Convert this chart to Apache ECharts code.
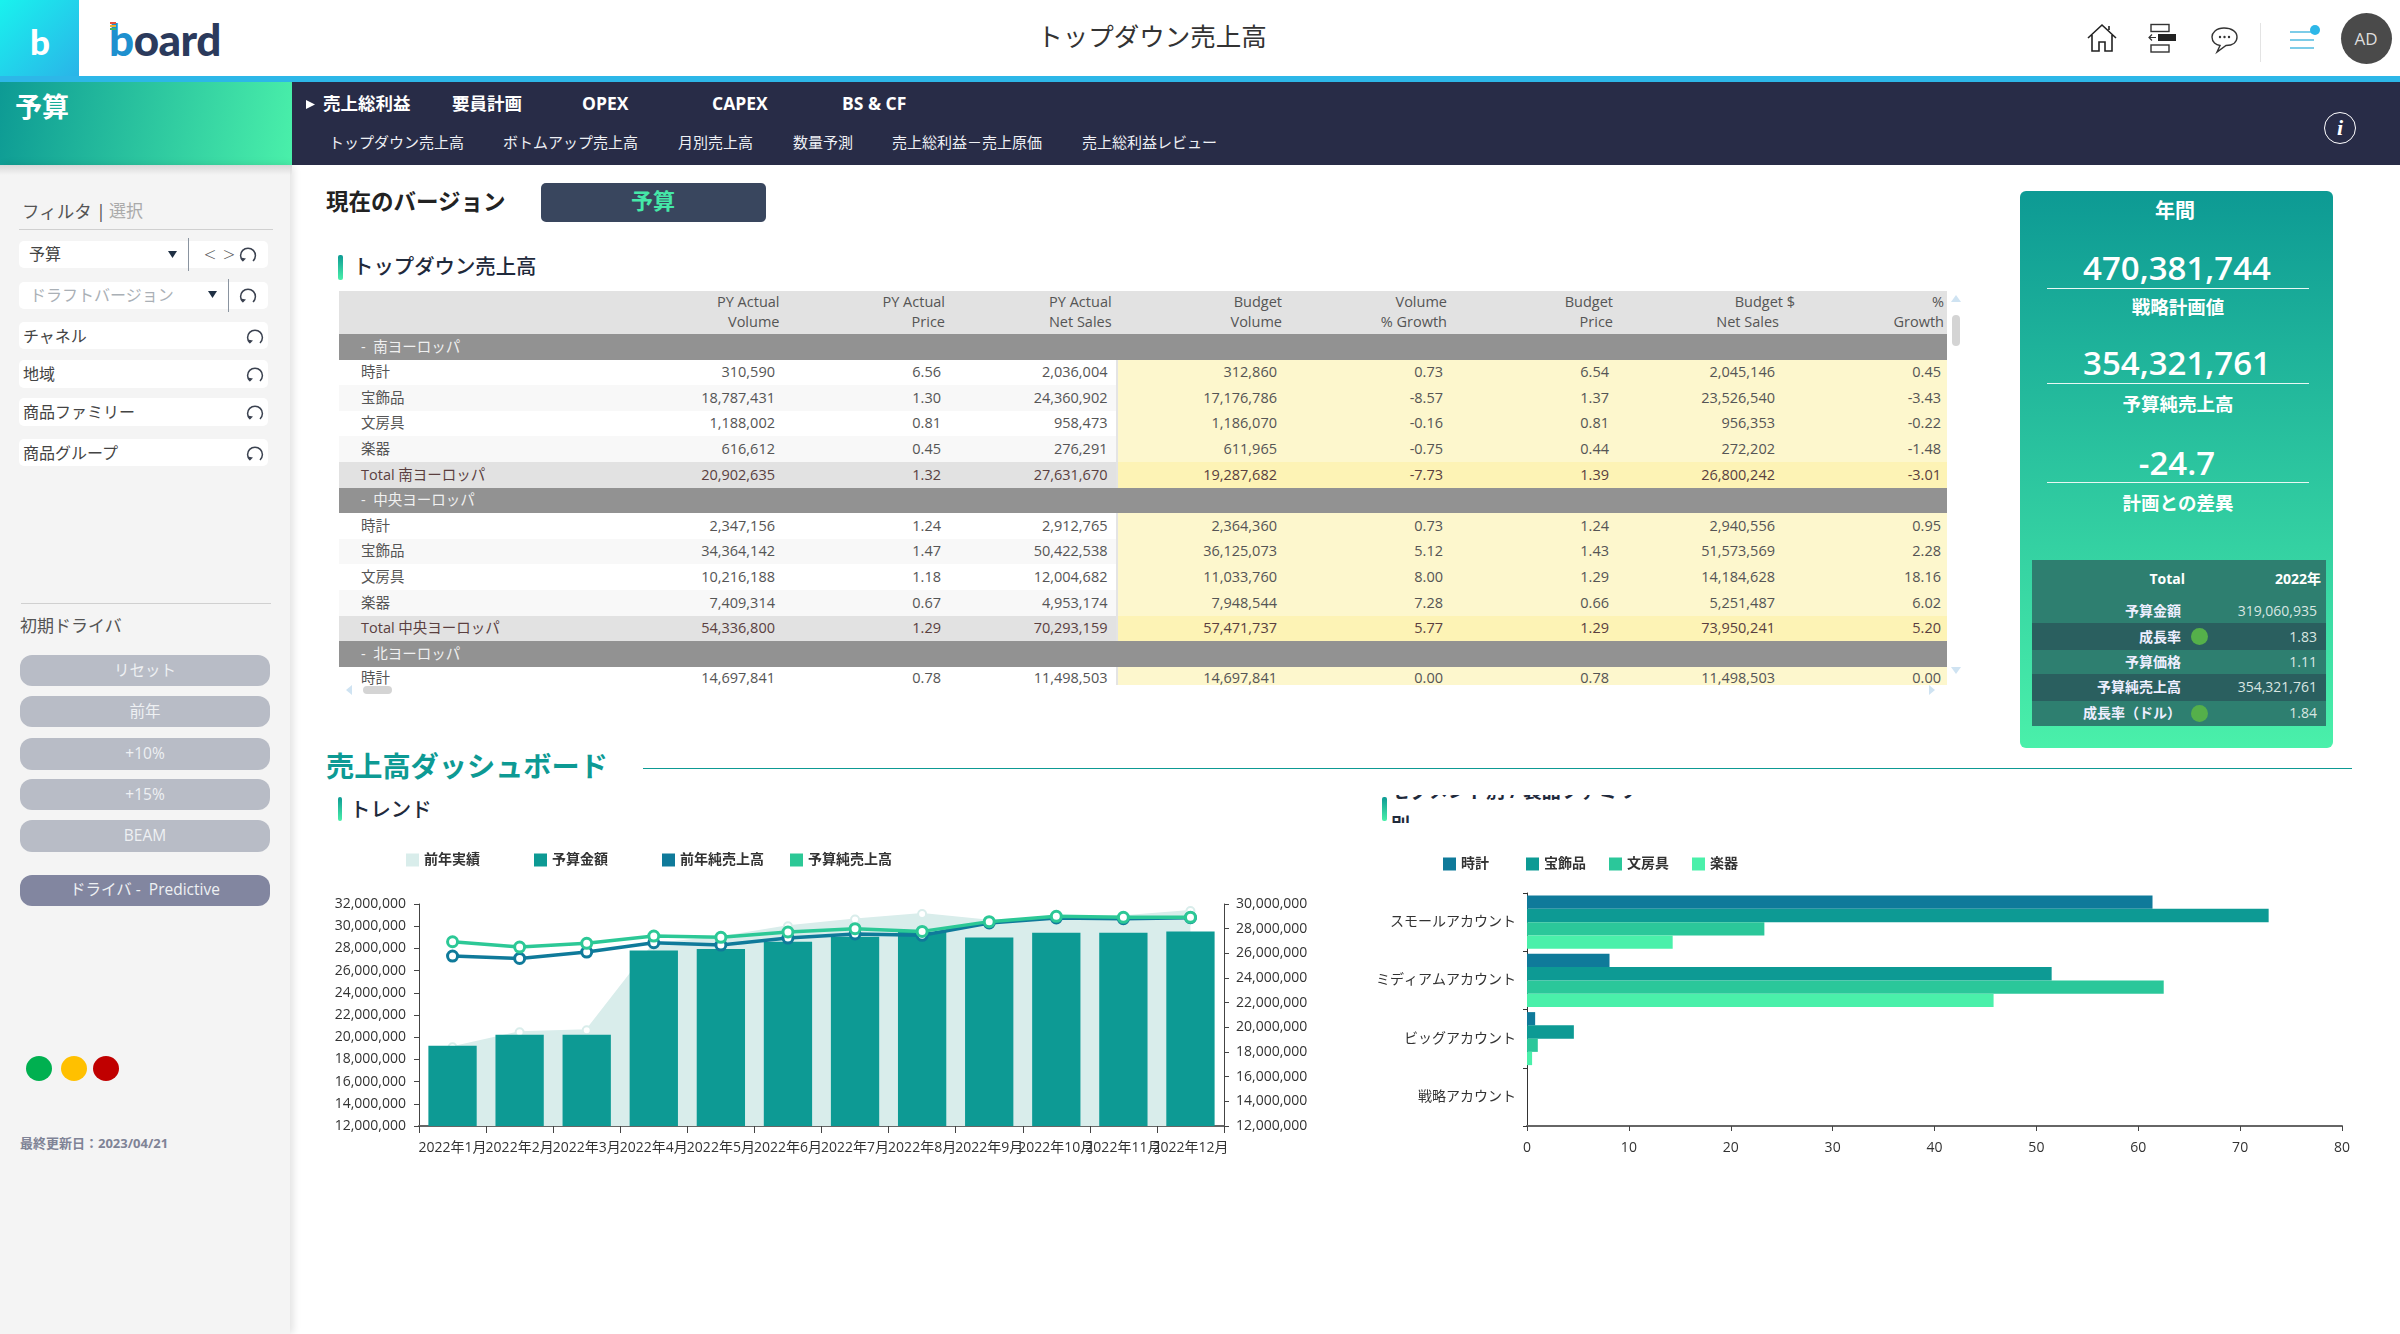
<!DOCTYPE html>
<html>
<head>
<meta charset="utf-8">
<title>トップダウン売上高</title>
<script src="https://cdn.jsdelivr.net/npm/echarts@6/dist/echarts.min.js"></script>
<style>
html,body{margin:0;padding:0;background:#fff;}
#page{position:relative;width:2400px;height:1334px;overflow:hidden;font-family:'Open Sans','Noto Sans CJK JP',sans-serif;color:#333;}
#page div{position:absolute;box-sizing:border-box;white-space:nowrap;}
#page svg{position:absolute;overflow:visible;}
</style>
</head>
<body>
<div id="page"></div>
<script>
// トレンド
var months = ['2022年1月','2022年2月','2022年3月','2022年4月','2022年5月','2022年6月','2022年7月','2022年8月','2022年9月','2022年10月','2022年11月','2022年12月'];
var pyActual = [19100000,20450000,20630000,28400000,29000000,30000000,30600000,31100000,30500000,30800000,30900000,31370000];
var budgetAmount = [19220000,20210000,20210000,27820000,27940000,28600000,29050000,29470000,28990000,29410000,29410000,29530000];
var pyNetSales = [25780000,25590000,26100000,26860000,26670000,27240000,27570000,27460000,28460000,28870000,28810000,28890000];
var budgetNetSales = [26940000,26510000,26810000,27400000,27300000,27730000,28000000,27780000,28570000,29000000,28920000,28920000];
var trendLegend = ['前年実績','予算金額','前年純売上高','予算純売上高'];

// セグメント別
var segments = ['スモールアカウント','ミディアムアカウント','ビッグアカウント','戦略アカウント'];
var watches = [61.4,8.1,0.8,0];
var jewelry = [72.8,51.5,4.6,0];
var stationery = [23.3,62.5,1.06,0];
var instruments = [14.3,45.8,0.5,0];
var familyNames = ['時計','宝飾品','文房具','楽器'];

// テーブル
var tableHead = [['PY Actual','Volume'],['PY Actual','Price'],['PY Actual','Net Sales'],['Budget','Volume'],['Volume','% Growth'],['Budget','Price'],['Budget $','Net Sales'],['%','Growth']];
var tableRows = [
  ['g','南ヨーロッパ'],
  ['r','時計','310,590','6.56','2,036,004','312,860','0.73','6.54','2,045,146','0.45'],
  ['r','宝飾品','18,787,431','1.30','24,360,902','17,176,786','-8.57','1.37','23,526,540','-3.43'],
  ['r','文房具','1,188,002','0.81','958,473','1,186,070','-0.16','0.81','956,353','-0.22'],
  ['r','楽器','616,612','0.45','276,291','611,965','-0.75','0.44','272,202','-1.48'],
  ['t','Total 南ヨーロッパ','20,902,635','1.32','27,631,670','19,287,682','-7.73','1.39','26,800,242','-3.01'],
  ['g','中央ヨーロッパ'],
  ['r','時計','2,347,156','1.24','2,912,765','2,364,360','0.73','1.24','2,940,556','0.95'],
  ['r','宝飾品','34,364,142','1.47','50,422,538','36,125,073','5.12','1.43','51,573,569','2.28'],
  ['r','文房具','10,216,188','1.18','12,004,682','11,033,760','8.00','1.29','14,184,628','18.16'],
  ['r','楽器','7,409,314','0.67','4,953,174','7,948,544','7.28','0.66','5,251,487','6.02'],
  ['t','Total 中央ヨーロッパ','54,336,800','1.29','70,293,159','57,471,737','5.77','1.29','73,950,241','5.20'],
  ['g','北ヨーロッパ'],
  ['r','時計','14,697,841','0.78','11,498,503','14,697,841','0.00','0.78','11,498,503','0.00']
];
var kpiRows = [
  ['予算金額','319,060,935',0,0],
  ['成長率','1.83',1,1],
  ['予算価格','1.11',0,0],
  ['予算純売上高','354,321,761',1,0],
  ['成長率（ドル）','1.84',0,1]
];
var navTop = [['売上総利益',323],['要員計画',452],['OPEX',582],['CAPEX',712],['BS & CF',842]];
var navSub = [['トップダウン売上高',329],['ボトムアップ売上高',503],['月別売上高',678],['数量予測',793],['売上総利益－売上原価',892],['売上総利益レビュー',1082]];
var driverButtons = [['リセット',655,31],['前年',696,31],['+10%',738,32],['+15%',779,31],['BEAM',820,32]];

var page = document.getElementById('page');

function box(x, y, w, h, css, html) {
  var d = document.createElement('div');
  d.style.cssText = 'left:' + x + 'px;top:' + y + 'px;width:' + w + 'px;height:' + h + 'px;' + (css || '');
  if (html) d.innerHTML = html;
  page.appendChild(d);
  return d;
}
// text, x = left edge, cy = vertical centre
function txt(x, cy, s, size, color, css) {
  return box(x, cy - size, 'auto', size * 2, 'width:auto;line-height:' + size * 2 + 'px;font-size:' + size + 'px;color:' + color + ';' + (css || ''), s);
}
function txtR(right, cy, s, size, color, css) {
  var d = txt(0, cy, s, size, color, css);
  d.style.left = 'auto';
  d.style.right = (2400 - right) + 'px';
  return d;
}
function txtC(cx, cy, s, size, color, css) {
  return box(cx - 200, cy - size, 400, size * 2, 'text-align:center;line-height:' + size * 2 + 'px;font-size:' + size + 'px;color:' + color + ';' + (css || ''), s);
}
function svg(x, y, w, h, inner, vb) {
  var wrap = document.createElement('div');
  wrap.style.cssText = 'left:' + x + 'px;top:' + y + 'px;width:' + w + 'px;height:' + h + 'px;';
  wrap.innerHTML = '<svg width="' + w + '" height="' + h + '" viewBox="' + (vb || '0 0 ' + w + ' ' + h) + '">' + inner + '</svg>';
  page.appendChild(wrap);
}
function resetIcon(cx, cy) {
  svg(cx - 9, cy - 9, 18, 18, '<path d="M4 15 A7.4 7.4 0 1 1 14 15" fill="none" stroke="#3b4250" stroke-width="1.5"/><path d="M1.5 11.5 L4 15.5 L7 12.5" fill="#3b4250"/>');
}

// ヘッダー
box(0, 0, 2400, 76, 'background:#fff;');
box(0, 76, 2400, 6, 'background:#2db7e8;');
box(0, 0, 79, 76, 'background:linear-gradient(135deg,#19f2ee,#2ab4e8);');
txt(30, 41, 'b', 35, '#fff', 'font-family:Lato;font-weight:900;');
box(109, 14, 120, 50, 'font-family:Lato;font-weight:900;font-size:44px;line-height:50px;color:#2b3a5c;letter-spacing:-0.5px;', '<span style="color:#1e90cf">b</span>oard');
box(110, 22, 6, 2, 'background:#e5523a;');
box(110, 25, 6, 2, 'background:#f0b030;');
box(110, 28, 6, 2, 'background:#3fb56b;');
txtC(1152, 36, 'トップダウン売上高', 25.5, '#333');
svg(2086, 22, 32, 32, '<path d="M2 16 L16 3 L30 16 M6 13 V29 H13 V20 H19 V29 H26 V13 M23 8 V4" fill="none" stroke="#222" stroke-width="1.6"/>');
svg(2148, 22, 32, 32, '<rect x="3" y="2.5" width="18" height="7" fill="none" stroke="#333" stroke-width="1.4"/><rect x="10" y="12" width="18" height="7" fill="#222"/><rect x="3" y="23" width="18" height="7" fill="none" stroke="#333" stroke-width="1.4"/><path d="M8 15.5 H1 M4 12.5 L1 15.5 L4 18.5" fill="none" stroke="#333" stroke-width="1.2"/>');
svg(2210, 26, 32, 30, '<path d="M14 2 C6 2 2 7 2 11 C2 16 6 19 10 19.5 L7 26 L16 19.5 C23 19.5 27 16 27 11 C27 6 22 2 14 2 Z" fill="none" stroke="#333" stroke-width="1.4"/><circle cx="10" cy="11" r="1.2" fill="#333"/><circle cx="14.5" cy="11" r="1.2" fill="#333"/><circle cx="19" cy="11" r="1.2" fill="#333"/>');
box(2260, 23, 1, 39, 'background:#e3e3e3;');
box(2290, 31, 24, 2, 'background:#7ccce8;');
box(2290, 39, 24, 2, 'background:#7ccce8;');
box(2290, 47, 24, 2, 'background:#7ccce8;');
box(2310, 25, 10, 10, 'background:#2db7e8;border-radius:50%;');
box(2341, 13, 51, 51, 'background:#4a4a4a;border-radius:50%;');
txtC(2366, 39, 'AD', 17, '#ddd');

// ナビ
box(292, 82, 2108, 83, 'background:#282c47;');
box(0, 82, 292, 83, 'background:linear-gradient(100deg,#0d9a94,#4af0aa);');
txt(15, 107, '予算', 27, '#fff', 'font-weight:700;');
navTop.forEach(function (n) {
  txt(n[1], 103, n[0], 17.5, '#fff', 'font-weight:700;');
});
box(306, 100, 9, 9, 'background:#fff;clip-path:polygon(0 0,100% 50%,0 100%);');
navSub.forEach(function (n) {
  txt(n[1], 142, n[0], 15, '#eef0f5');
});
box(2324, 112, 32, 32, 'border:1.5px solid #fff;border-radius:50%;');
txtC(2340, 128, 'i', 22, '#fff', 'font-family:"Liberation Serif";font-style:italic;font-weight:700;');

// サイドバー
box(0, 165, 290, 1169, 'background:#f4f4f4;box-shadow:3px 0 8px rgba(0,0,0,0.12);');
box(0, 165, 292, 10, 'background:linear-gradient(#d8d8d8,rgba(244,244,244,0));');
txt(22, 211, 'フィルタ', 17.5, '#555');
txt(96, 211, '|', 18, '#555');
txt(109, 211, '選択', 17, '#aaa');
box(19, 229, 254, 1, 'background:#d0d0d0;');
[[241,27],[282,27],[322,27],[360,28],[398,28],[439,27]].forEach(function (r) {
  box(19, r[0], 249, r[1], 'background:#fff;border-radius:5px;');
});
txt(29, 254, '予算', 16, '#444');
box(168, 251, 9, 7, 'background:#1f3044;clip-path:polygon(0 0,100% 0,50% 100%);');
box(188, 238, 1, 33, 'background:#8a94a0;');
txt(204, 254, '&lt;', 21, '#555', 'font-weight:300;');
txt(223, 254, '&gt;', 21, '#555', 'font-weight:300;');
resetIcon(248, 255);
txt(30, 295, 'ドラフトバージョン', 16, '#aab0b6');
box(208, 291, 9, 7, 'background:#1f3044;clip-path:polygon(0 0,100% 0,50% 100%);');
box(228, 279, 1, 33, 'background:#8a94a0;');
resetIcon(248, 296);
[['チャネル',336],['地域',374],['商品ファミリー',412],['商品グループ',453]].forEach(function (r) {
  txt(23, r[1], r[0], 16, '#444');
  resetIcon(255, r[1] + 1);
});
box(21, 603, 250, 1, 'background:#d0d0d0;');
txt(20, 626, '初期ドライバ', 17, '#555');
driverButtons.forEach(function (b) {
  box(20, b[1], 250, b[2], 'background:#b8bcc6;border-radius:12px;text-align:center;color:#eef0f3;font-size:15.5px;line-height:' + (b[2] - 1) + 'px;', b[0]);
});
box(20, 875, 250, 31, 'background:#8286a0;border-radius:12px;text-align:center;color:#eef0f3;font-size:15.5px;line-height:29px;', 'ドライバ -&nbsp; Predictive');
box(26, 1056, 26, 25, 'background:#00b050;border-radius:50%;');
box(61, 1056, 26, 25, 'background:#ffc000;border-radius:50%;');
box(93, 1056, 26, 25, 'background:#c00000;border-radius:50%;');
txt(20, 1143, '最終更新日：2023/04/21', 13, '#7f8396', 'font-weight:700;');

// 現在のバージョン
txt(326, 201, '現在のバージョン', 22.5, '#222', 'font-weight:700;');
box(541, 183, 225, 39, 'background:#39465e;border-radius:5px;');
txtC(653, 200, '予算', 22, '#45e8a8', 'font-weight:700;');

function sectionBar(x, y, w, h) {
  box(x, y, w, h, 'background:linear-gradient(#0d9a94,#4af0aa);border-radius:2px;');
}
sectionBar(338, 255, 5, 25);
txt(353, 266, 'トップダウン売上高', 20.4, '#1f2a3c', 'font-weight:500;');

// テーブル
var headRight = [779.5, 945, 1111.6, 1282, 1447, 1613, 1779, 1944];
var dataRight = [775, 941, 1107.5, 1277, 1443, 1609, 1775, 1941];
box(339, 291, 1608, 43, 'background:#e2e2e2;');
tableHead.forEach(function (h, i) {
  var shift = h[0] === 'Budget $' ? 16 : 0;
  txtR(headRight[i] + shift, 301, h[0], 14.5, '#555');
  txtR(headRight[i], 321, h[1], 14.5, '#555');
});
var rowH = 25.6;
var nRow = 0;
tableRows.forEach(function (r, i) {
  var top = 334 + i * rowH;
  var h = i === 13 ? 20.5 : rowH;
  var cy = top + rowH / 2 - 0.8;
  if (r[0] === 'g') {
    box(339, top, 1608, h, 'background:#929292;');
    txt(361, cy, '-&nbsp; ' + r[1], 14.5, '#f0f0f0');
    nRow = 0;
    return;
  }
  var total = r[0] === 't';
  box(339, top, 779, h, 'background:' + (total ? '#e2e2e2' : (nRow % 2 ? '#f8f8f8' : '#fff')) + ';');
  box(1116, top, 2, h, 'background:#e4e4e4;');
  box(1118, top, 829, h, 'background:' + (total ? '#fdf3b5' : '#fdf7cd') + ';');
  var c = total ? '#5a3f3f' : '#555';
  if (i === 13) cy -= 1;
  txt(361, cy, r[1], 14.5, c);
  for (var k = 2; k < r.length; k++) {
    txtR(dataRight[k - 2], cy, r[k], 14.5, c);
  }
  nRow++;
});
box(339, 685, 1620, 12, 'background:#fff;');
box(1947, 291, 20, 400, 'background:#fff;');
box(1952, 315, 8, 31, 'background:#d4d4d4;border-radius:4px;');
box(1951, 295, 10, 7, 'background:#cfe3f2;clip-path:polygon(50% 0,100% 100%,0 100%);');
box(1951, 667, 10, 7, 'background:#cfe3f2;clip-path:polygon(0 0,100% 0,50% 100%);');
box(363, 686, 29, 8, 'background:#d4d4d4;border-radius:4px;');
box(346, 685, 6, 10, 'background:#cfe3f2;clip-path:polygon(100% 0,100% 100%,0 50%);');
box(1929, 685, 6, 10, 'background:#cfe3f2;clip-path:polygon(0 0,100% 50%,0 100%);');

// 年間パネル
box(2020, 191, 313, 557, 'background:linear-gradient(#0d9a94,#4af0aa);border-radius:6px;');
txtC(2175, 211, '年間', 20, '#fff', 'font-weight:700;');
[['470,381,744',268,288,'戦略計画値',306],['354,321,761',363,383,'予算純売上高',403],['-24.7',463,482,'計画との差異',502]].forEach(function (k) {
  txtC(2177, k[1], k[0], 33, '#fff', 'font-weight:600;');
  box(2047, k[2], 262, 1, 'background:#e8f8f4;');
  txtC(2178, k[4], k[3], 18.5, '#fff', 'font-weight:700;');
});
box(2032, 560, 294, 38, 'background:#2e7f70;');
txtR(2185, 579, 'Total', 14, '#fff', 'font-weight:700;');
txtR(2321, 579, '2022年', 14, '#fff', 'font-weight:700;');
var kpiTops = [598, 623, 650, 674, 700.5, 726];
kpiRows.forEach(function (r, i) {
  var t = kpiTops[i], b = kpiTops[i + 1], cy = (t + b) / 2;
  box(2032, t, 294, b - t, 'background:' + (r[2] ? '#2a5f5f' : '#2e7f70') + ';');
  txtR(2181, cy, r[0], 14, '#eef', 'font-weight:700;');
  txtR(2317, cy, r[1], 14, '#d8e6e2');
  if (r[3]) box(2191, cy - 8.5, 17, 17, 'background:#55b04a;border-radius:50%;');
});

// 売上高ダッシュボード
txt(326, 766, '売上高ダッシュボード', 28.2, '#0d9a94', 'font-weight:700;');
box(643, 768, 1709, 1, 'background:#0d9a94;');
sectionBar(338, 797, 4, 24);
txt(350, 809, 'トレンド', 20.4, '#1f2a3c', 'font-weight:500;');
sectionBar(1382, 797, 5, 24);
box(1391, 795, 290, 28, 'overflow:hidden;', '<div style="left:0;top:-21px;width:290px;font-size:19px;line-height:34px;white-space:normal;color:#1f2a3c;font-weight:700;">セグメント別 / 製品ファミリー<br>別</div>');

var fontFamily = "'Open Sans','Noto Sans CJK JP',sans-serif";
var chart1Div = box(330, 830, 990, 350);
var chart2Div = box(1340, 830, 1060, 350);

var chart1 = echarts.init(chart1Div);
var chart2 = echarts.init(chart2Div);
var axisText = { fontFamily: fontFamily, fontSize: 14, color: '#333' };

// 凡例は項目ごとに置く (等間隔に並べるため)
function legendOpt(names, colors, left, top, step) {
  return names.map(function (n, i) {
    return {
      left: left + i * step, top: top, padding: 0, icon: 'rect', itemWidth: 13, itemHeight: 13,
      selectedMode: false,
      textStyle: { fontFamily: fontFamily, fontSize: 14, fontWeight: 700, color: '#333' },
      data: [{ name: n, itemStyle: { color: colors[i], borderWidth: 0 } }]
    };
  });
}

chart1.setOption({
  animation: false,
  legend: legendOpt(trendLegend, ['#d9edeb', '#0d9a94', '#0f7a9a', '#2cc896'], 76, 23, 128),
  grid: { left: 89, right: 96, top: 74, bottom: 54, outerBoundsMode: 'none' },
  xAxis: {
    type: 'category', data: months,
    axisLine: { lineStyle: { color: '#666', width: 2 } },
    axisTick: { show: true, length: 7, lineStyle: { color: '#444' } },
    axisLabel: Object.assign({ interval: 0, margin: 15, hideOverlap: false }, axisText)
  },
  yAxis: [
    { type: 'value', min: 12000000, max: 32000000, interval: 2000000,
      axisLine: { show: true, lineStyle: { color: '#444' } },
      axisTick: { show: true, length: 5, lineStyle: { color: '#444' } },
      splitLine: { show: false },
      axisLabel: Object.assign({ margin: 13 }, axisText) },
    { type: 'value', min: 12000000, max: 30000000, interval: 2000000,
      axisLine: { show: true, lineStyle: { color: '#444' } },
      axisTick: { show: true, length: 5, lineStyle: { color: '#444' } },
      splitLine: { show: false },
      axisLabel: Object.assign({ margin: 12 }, axisText) }
  ],
  series: [
    { name: trendLegend[0], type: 'line', data: pyActual, z: 1, symbol: 'circle', symbolSize: 8,
      lineStyle: { color: '#d9edeb', width: 2 },
      itemStyle: { color: '#fff', borderColor: '#d9edeb', borderWidth: 2 },
      areaStyle: { color: '#d9edeb', opacity: 1 } },
    { name: trendLegend[1], type: 'bar', data: budgetAmount, z: 2, barCategoryGap: '28%',
      itemStyle: { color: '#0d9a94' } },
    { name: trendLegend[2], type: 'line', yAxisIndex: 1, data: pyNetSales, z: 3, symbol: 'circle', symbolSize: 10,
      lineStyle: { color: '#0f7a9a', width: 3.5 },
      itemStyle: { color: '#fff', borderColor: '#0f7a9a', borderWidth: 3 } },
    { name: trendLegend[3], type: 'line', yAxisIndex: 1, data: budgetNetSales, z: 4, symbol: 'circle', symbolSize: 10,
      lineStyle: { color: '#2cc896', width: 3.5 },
      itemStyle: { color: '#fff', borderColor: '#2cc896', borderWidth: 3 } }
  ]
});

var familyColors = ['#0f7a9a', '#0d9a94', '#2bc79a', '#4af0aa'];
chart2.setOption({
  animation: false,
  color: familyColors,
  legend: legendOpt(familyNames, familyColors, 103, 27, 83),
  grid: { left: 187, right: 58, top: 63, bottom: 54, outerBoundsMode: 'none' },
  xAxis: {
    type: 'value', min: 0, max: 80, interval: 10,
    axisLine: { show: true, lineStyle: { color: '#666', width: 2 } },
    axisTick: { show: true, length: 5, lineStyle: { color: '#444' } },
    splitLine: { show: false },
    axisLabel: Object.assign({ margin: 15 }, axisText)
  },
  yAxis: {
    type: 'category', data: segments, inverse: true,
    axisLine: { show: true, lineStyle: { color: '#333' } },
    axisTick: { show: true, length: 4, lineStyle: { color: '#333' } },
    axisLabel: Object.assign({ interval: 0, margin: 11 }, axisText)
  },
  series: [watches, jewelry, stationery, instruments].map(function (v, i) {
    return { name: familyNames[i], type: 'bar', data: v, barGap: 0, barCategoryGap: '9%' };
  })
});
</script>
</body>
</html>
